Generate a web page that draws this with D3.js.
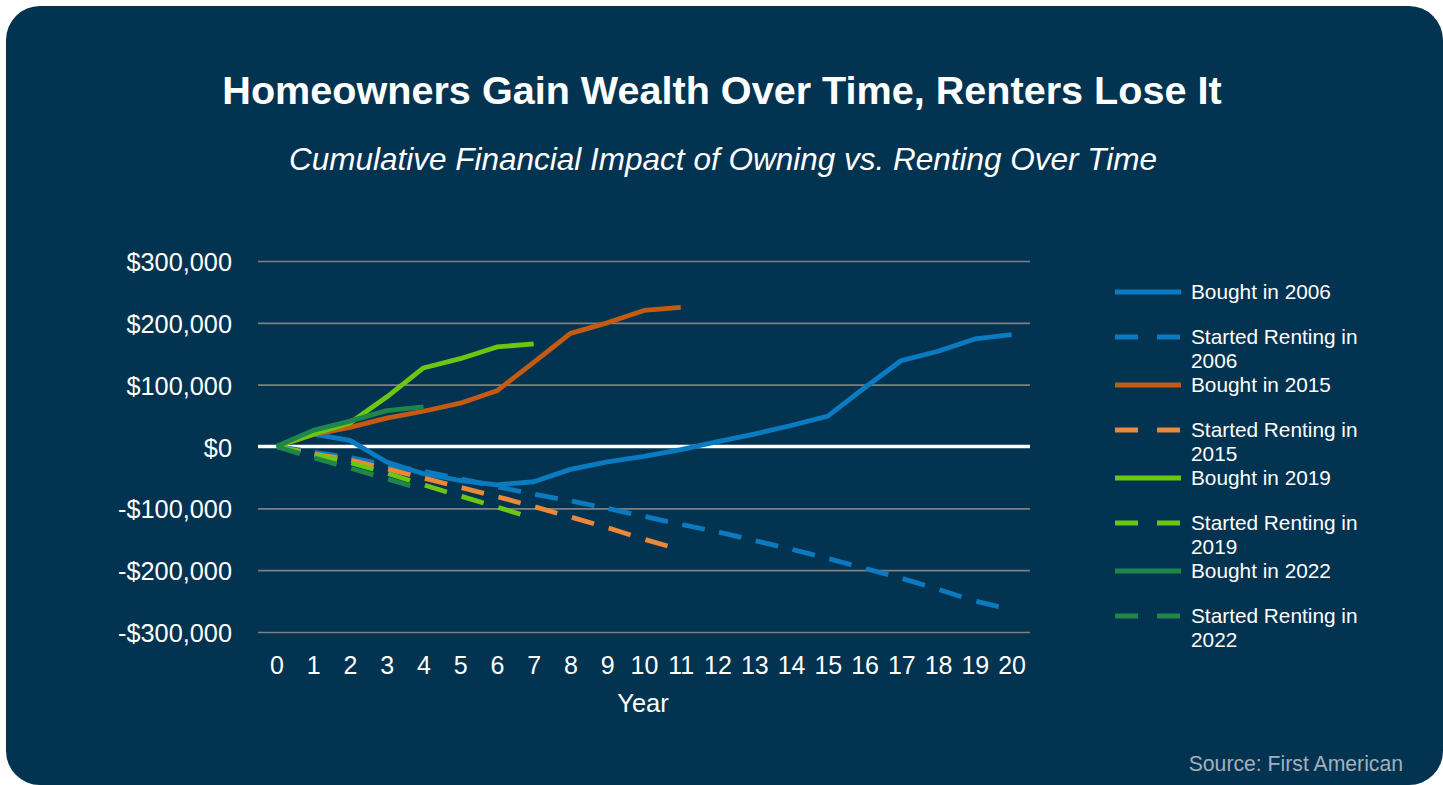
<!DOCTYPE html>
<html>
<head>
<meta charset="utf-8">
<script src="https://cdn.jsdelivr.net/npm/d3@7"></script>
<style>
  html, body { margin: 0; padding: 0; background: #ffffff; }
  svg { display: block; }
  text { font-family: "Liberation Sans", Arial, Helvetica, sans-serif; }
</style>
</head>
<body>
<svg id="chart" width="1443" height="785"></svg>
<script>
// ---------- data ----------
const yearLabels = ["0","1","2","3","4","5","6","7","8","9","10","11","12","13","14","15","16","17","18","19","20"];
const yTickValues = [300000, 200000, 100000, 0, -100000, -200000, -300000];

const bought2006  = [0, 20000, 10000, -25000, -44000, -55000, -62000, -57000, -37000, -25000, -16000, -5000, 8000, 20000, 34000, 49000, 95000, 139000, 154000, 174000, 181000];
const renting2006 = [0, -9000, -18000, -30000, -40000, -52000, -65000, -77000, -88000, -100000, -113000, -126000, -138000, -152000, -166000, -181000, -197000, -213000, -231000, -250000, -264000];
const bought2015  = [0, 19000, 31000, 46000, 57000, 70000, 90000, 136000, 183000, 200000, 220000, 225000];
const renting2015 = [0, -12000, -22000, -36000, -51000, -66000, -81000, -97000, -114000, -131000, -150000, -167000];
const bought2019  = [0, 20000, 38000, 80000, 127000, 142000, 161000, 166000];
const renting2019 = [0, -13000, -26000, -43000, -62000, -80000, -98000, -116000];
const bought2022  = [0, 26000, 41000, 58000, 64000];
const renting2022 = [0, -18000, -35000, -52000, -70000];

const seriesNames = ["Bought in 2006", "Started Renting in 2006", "Bought in 2015", "Started Renting in 2015",
                     "Bought in 2019", "Started Renting in 2019", "Bought in 2022", "Started Renting in 2022"];
const seriesValues = [bought2006, renting2006, bought2015, renting2015, bought2019, renting2019, bought2022, renting2022];
const seriesColors = ["#0B7BC1", "#0B7BC1", "#C55B12", "#EC883A", "#6BC712", "#6BC712", "#1E864A", "#1E864A"];
const seriesDashed = [false, true, false, true, false, true, false, true];

// ---------- layout ----------
const svg = d3.select("#chart");
const bg = "#023350";

svg.append("rect").attr("x", 6).attr("y", 6).attr("width", 1437).attr("height", 779)
  .attr("rx", 34).attr("ry", 34).attr("fill", bg);

svg.append("text").attr("x", 722).attr("y", 104).attr("text-anchor", "middle")
  .attr("fill", "#ffffff").attr("font-size", 39.6).attr("font-weight", "bold")
  .text("Homeowners Gain Wealth Over Time, Renters Lose It");

svg.append("text").attr("x", 723).attr("y", 170).attr("text-anchor", "middle")
  .attr("fill", "#ffffff").attr("font-size", 31.5).attr("font-style", "italic")
  .text("Cumulative Financial Impact of Owning vs. Renting Over Time");

const left = 258, right = 1030;
const x = d3.scalePoint().domain(yearLabels).range([left, right]).padding(0.5);
const y = d3.scaleLinear().domain([-300000, 300000]).range([632, 261]);

const fmt = v => (v < 0 ? "-" : "") + "$" + d3.format(",")(Math.abs(v));

// grid + y labels
const yAxis = svg.append("g").attr("transform", `translate(${left},0)`)
  .call(d3.axisLeft(y).tickValues(yTickValues).tickFormat(fmt).tickSize(-(right - left)).tickPadding(26));
yAxis.select(".domain").remove();
yAxis.selectAll(".tick line").attr("stroke", "#808080").attr("stroke-width", 1.6)
  .attr("display", d => d === 0 ? "none" : null);
yAxis.selectAll(".tick text").attr("fill", "#ffffff").attr("font-size", 25.3)
  .attr("font-family", "Liberation Sans, Arial, sans-serif").attr("dy", "0.38em");

// zero line
svg.append("line").attr("x1", left).attr("x2", right).attr("y1", y(0)).attr("y2", y(0))
  .attr("stroke", "#ffffff").attr("stroke-width", 3.5);

// x labels
const xAxis = svg.append("g").attr("transform", `translate(0,650)`)
  .call(d3.axisBottom(x).tickSize(0).tickPadding(0));
xAxis.select(".domain").remove();
xAxis.selectAll(".tick text").attr("fill", "#ffffff").attr("font-size", 25)
  .attr("font-family", "Liberation Sans, Arial, sans-serif").attr("y", 24).attr("dy", 0);

svg.append("text").attr("x", 643).attr("y", 712).attr("text-anchor", "middle")
  .attr("fill", "#ffffff").attr("font-size", 25.5).text("Year");

// lines (dashed series: dash pattern restarts on every segment, as in the source)
const line = d3.line().x(d => x(d.label)).y(d => y(d.value));
seriesValues.forEach((vals, k) => {
  const pts = vals.map((v, i) => ({ label: yearLabels[i], value: v }));
  if (!seriesDashed[k]) {
    svg.append("path").datum(pts).attr("d", line)
      .attr("fill", "none").attr("stroke", seriesColors[k]).attr("stroke-width", 4.8)
      .attr("stroke-linejoin", "round");
  } else {
    const segs = d3.pairs(pts);
    svg.append("g").selectAll("path").data(segs).join("path")
      .attr("d", line)
      .attr("fill", "none").attr("stroke", seriesColors[k]).attr("stroke-width", 4.8)
      .attr("stroke-dasharray", "0,1.5,23,60");
  }
});

// legend
const lg = svg.append("g");
seriesNames.forEach((name, k) => {
  const pair = Math.floor(k / 2);
  const yy = k % 2 === 0 ? 292 + 93 * pair : 337 + 93 * pair;
  lg.append("line").attr("x1", 1115).attr("x2", 1181).attr("y1", yy).attr("y2", yy)
    .attr("stroke", seriesColors[k]).attr("stroke-width", 5)
    .attr("stroke-dasharray", seriesDashed[k] ? "23,19" : null);
  const t = lg.append("text").attr("x", 1191).attr("y", yy).attr("fill", "#ffffff")
    .attr("font-size", 20.8).attr("dy", "0.36em");
  if (seriesDashed[k]) {
    const parts = name.split(" ");
    const yearPart = parts.pop();
    t.append("tspan").attr("x", 1191).text(parts.join(" "));
    t.append("tspan").attr("x", 1191).attr("dy", 23.5).text(yearPart);
  } else {
    t.text(name);
  }
});

svg.append("text").attr("x", 1403).attr("y", 771).attr("text-anchor", "end")
  .attr("fill", "#A3B0BC").attr("font-size", 21.2).text("Source:  First American");
</script>
</body>
</html>
